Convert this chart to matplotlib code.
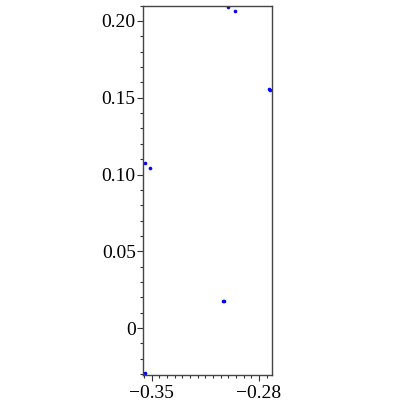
import matplotlib
matplotlib.use("Agg")
import matplotlib.pyplot as plt
from matplotlib.ticker import MultipleLocator, FixedLocator

# points
xs = [-0.3542, -0.3513, -0.3004, -0.2959, -0.2733, -0.2730, -0.3032, -0.3026, -0.3542]
ys = [0.1072, 0.1043, 0.2089, 0.2067, 0.1559, 0.1552, 0.0176, 0.0176, -0.0294]

xticks = [-0.35, -0.28]
yticks = [0, 0.05, 0.10, 0.15, 0.20]
yticklabels = ["0", "0.05", "0.10", "0.15", "0.20"]

plt.rcParams["font.family"] = ["Liberation Serif", "DejaVu Serif"]
plt.rcParams["font.serif"] = ["Liberation Serif", "DejaVu Serif"]

fig = plt.figure(figsize=(4.15, 4.15), dpi=100)
ax = fig.add_axes([0.3453, 0.0964, 0.311, 0.890])

ax.plot(xs, ys, "o", color="#0000ff", markersize=2.6, markeredgewidth=0)

ax.set_xlim(-0.3555, -0.2713)
ax.set_ylim(-0.0306, 0.2100)

ax.xaxis.set_major_locator(FixedLocator(xticks))
ax.set_xticklabels(["\u22120.35", "\u22120.28"])
ax.xaxis.set_minor_locator(MultipleLocator(0.005))
ax.yaxis.set_major_locator(FixedLocator(yticks))
ax.set_yticklabels(yticklabels)
ax.yaxis.set_minor_locator(MultipleLocator(0.01))

ax.tick_params(which="major", direction="out", length=4, width=0.8,
               labelsize=14, color="#333333", pad=1.5)
ax.tick_params(axis="x", which="major", pad=3)
ax.tick_params(which="minor", direction="out", length=2.5, width=0.8,
               color="#333333")

for s in ax.spines.values():
    s.set_color("#444444")
    s.set_linewidth(1.0)

fig.savefig("out.png", dpi=100)
